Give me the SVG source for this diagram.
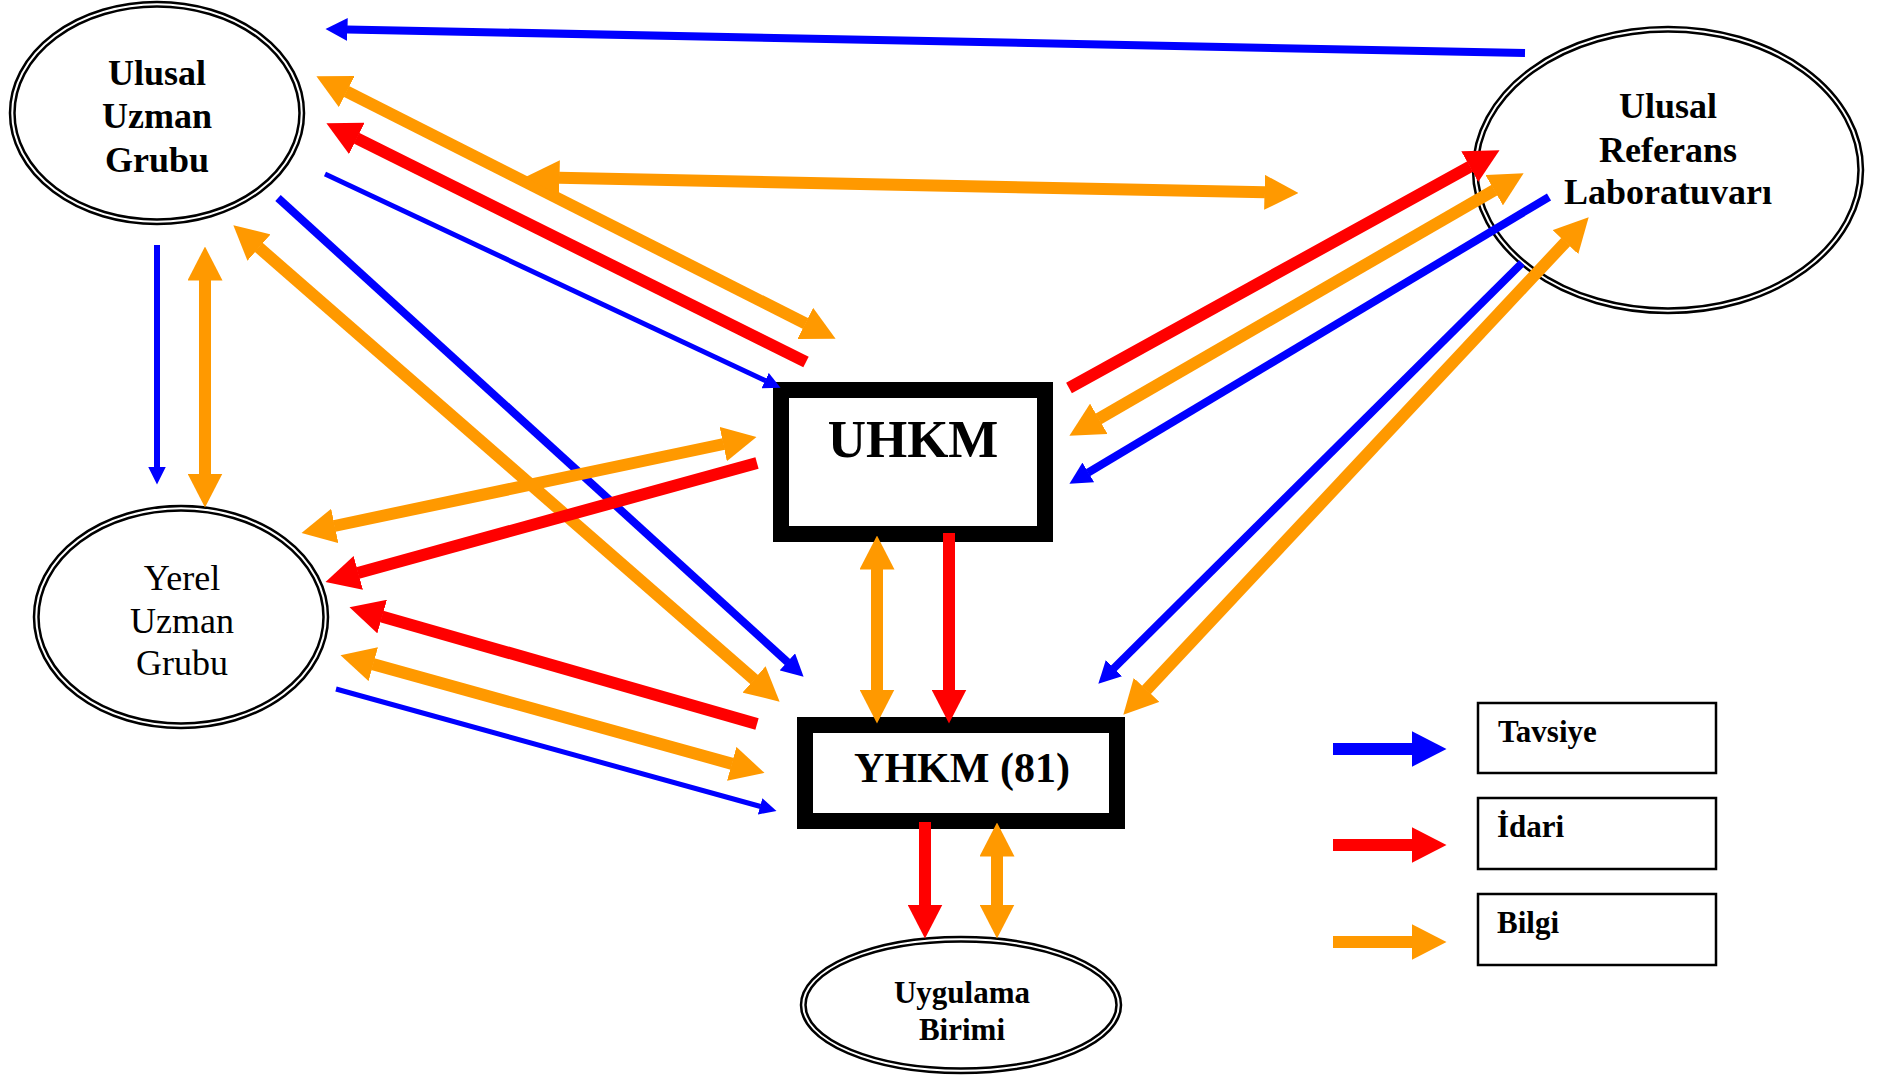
<svg xmlns="http://www.w3.org/2000/svg" width="1884" height="1078" viewBox="0 0 1884 1078">
<style>
.bg{fill:#FFFFFF}
.ell{fill:#FFFFFF;stroke:#000000;stroke-width:2.5}
.ell2{fill:none;stroke:#000000;stroke-width:2.5}
.box{fill:#FFFFFF;stroke:#000000;stroke-width:16}
.lbox{fill:#FFFFFF;stroke:#000000;stroke-width:2.5}
.t{font-family:"Liberation Serif","Times New Roman",serif;fill:#000000;text-anchor:middle}
.bd{font-weight:bold}
.lt{font-family:"Liberation Serif","Times New Roman",serif;fill:#000000;font-weight:bold;font-size:31px}
.org{stroke:#FF9900;stroke-width:12;fill:none}
.red{stroke:#FF0000;stroke-width:12;fill:none}
.bm{stroke:#0000FF;stroke-width:8;fill:none}
.bt{stroke:#0000FF;stroke-width:5;fill:none}
.bv{stroke:#0000FF;stroke-width:6;fill:none}
</style>
<defs>
<marker id="hO" markerUnits="userSpaceOnUse" markerWidth="34" markerHeight="35" viewBox="0 0 34 35" refX="0.5" refY="17.5" orient="auto-start-reverse"><path d="M0,0L34,17.5L0,35z" fill="#FF9900"/></marker>
<marker id="hR" markerUnits="userSpaceOnUse" markerWidth="34" markerHeight="35" viewBox="0 0 34 35" refX="0.5" refY="17.5" orient="auto-start-reverse"><path d="M0,0L34,17.5L0,35z" fill="#FF0000"/></marker>
<marker id="hB" markerUnits="userSpaceOnUse" markerWidth="22" markerHeight="23" viewBox="0 0 22 23" refX="0.5" refY="11.5" orient="auto-start-reverse"><path d="M0,0L22,11.5L0,23z" fill="#0000FF"/></marker>
<marker id="hBt" markerUnits="userSpaceOnUse" markerWidth="17" markerHeight="17" viewBox="0 0 17 17" refX="0.5" refY="8.5" orient="auto-start-reverse"><path d="M0,0L17,8.5L0,17z" fill="#0000FF"/></marker>
<marker id="hBv" markerUnits="userSpaceOnUse" markerWidth="18" markerHeight="18" viewBox="0 0 18 18" refX="0.5" refY="9" orient="auto-start-reverse"><path d="M0,0L18,9L0,18z" fill="#0000FF"/></marker>
<marker id="lB" markerUnits="userSpaceOnUse" markerWidth="35" markerHeight="36" viewBox="0 0 35 36" refX="0.5" refY="18" orient="auto"><path d="M0,0L35,18L0,36z" fill="#0000FF"/></marker>
<marker id="lR" markerUnits="userSpaceOnUse" markerWidth="35" markerHeight="36" viewBox="0 0 35 36" refX="0.5" refY="18" orient="auto"><path d="M0,0L35,18L0,36z" fill="#FF0000"/></marker>
<marker id="lO" markerUnits="userSpaceOnUse" markerWidth="35" markerHeight="36" viewBox="0 0 35 36" refX="0.5" refY="18" orient="auto"><path d="M0,0L35,18L0,36z" fill="#FF9900"/></marker>
</defs>
<rect class="bg" x="0" y="0" width="1884" height="1078"/>

<g id="ulusal-uzman-grubu">
<ellipse class="ell" cx="157" cy="113" rx="147" ry="111"/>
<ellipse class="ell2" cx="157" cy="113" rx="142.5" ry="106.5"/>
<text class="t bd" font-size="36" x="157" y="85">Ulusal</text>
<text class="t bd" font-size="36" x="157" y="128">Uzman</text>
<text class="t bd" font-size="36" x="157" y="172">Grubu</text>
</g>

<g id="ulusal-referans-laboratuvari">
<ellipse class="ell" cx="1668" cy="170" rx="195" ry="143"/>
<ellipse class="ell2" cx="1668" cy="170" rx="190.5" ry="138.5"/>
<text class="t bd" font-size="36" x="1668" y="118">Ulusal</text>
<text class="t bd" font-size="36" x="1668" y="162">Referans</text>
<text class="t bd" font-size="36" x="1668" y="204">Laboratuvarı</text>
</g>

<g id="yerel-uzman-grubu">
<ellipse class="ell" cx="181" cy="617" rx="147" ry="111"/>
<ellipse class="ell2" cx="181" cy="617" rx="142.5" ry="106.5"/>
<text class="t" font-size="36" x="182" y="590">Yerel</text>
<text class="t" font-size="36" x="182" y="633">Uzman</text>
<text class="t" font-size="36" x="182" y="675">Grubu</text>
</g>

<g id="uhkm">
<rect class="box" x="781" y="390" width="264" height="144"/>
<text class="t bd" font-size="53" x="913" y="457">UHKM</text>
</g>

<g id="yhkm">
<rect class="box" x="805" y="725" width="312" height="96"/>
<text class="t bd" font-size="42" x="962" y="782">YHKM (81)</text>
</g>

<g id="uygulama-birimi">
<ellipse class="ell" cx="961" cy="1005" rx="160" ry="68"/>
<ellipse class="ell2" cx="961" cy="1005" rx="155.5" ry="63.5"/>
<text class="t bd" font-size="31" x="962" y="1003">Uygulama</text>
<text class="t bd" font-size="31" x="962" y="1040">Birimi</text>
</g>

<g id="connectors">
<line class="bm" x1="1525" y1="53" x2="347" y2="29.4" marker-end="url(#hB)"/>
<line class="org" x1="346.3" y1="91.3" x2="805.7" y2="323.7" marker-start="url(#hO)" marker-end="url(#hO)"/>
<line class="red" x1="806" y1="362" x2="356.4" y2="138.2" marker-end="url(#hR)"/>
<line class="bt" x1="325" y1="174" x2="765.6" y2="380.8" marker-end="url(#hBt)"/>
<line class="org" x1="559" y1="177.7" x2="1265" y2="192.3" marker-start="url(#hO)" marker-end="url(#hO)"/>
<line class="bm" x1="278" y1="198" x2="787.7" y2="662.2" marker-end="url(#hB)"/>
<line class="org" x1="258.6" y1="247.3" x2="754.4" y2="679.7" marker-start="url(#hO)" marker-end="url(#hO)"/>
<line class="bv" x1="157" y1="245" x2="157" y2="467" marker-end="url(#hBv)"/>
<line class="org" x1="205" y1="280" x2="205" y2="474" marker-start="url(#hO)" marker-end="url(#hO)"/>
<line class="org" x1="723.7" y1="444" x2="334.3" y2="526" marker-start="url(#hO)" marker-end="url(#hO)"/>
<line class="red" x1="757" y1="463" x2="357.8" y2="573" marker-end="url(#hR)"/>
<line class="red" x1="757" y1="724" x2="381.7" y2="616.4" marker-end="url(#hR)"/>
<line class="org" x1="372.8" y1="664.1" x2="732.2" y2="763.9" marker-start="url(#hO)" marker-end="url(#hO)"/>
<line class="bt" x1="336" y1="689" x2="760.6" y2="806.5" marker-end="url(#hBt)"/>
<line class="org" x1="877" y1="569" x2="877" y2="690" marker-start="url(#hO)" marker-end="url(#hO)"/>
<line class="red" x1="949" y1="533" x2="949" y2="690" marker-end="url(#hR)"/>
<line class="red" x1="925" y1="822" x2="925" y2="905" marker-end="url(#hR)"/>
<line class="org" x1="997" y1="856" x2="997" y2="905" marker-start="url(#hO)" marker-end="url(#hO)"/>
<line class="red" x1="1069" y1="388" x2="1470.2" y2="166.4" marker-end="url(#hR)"/>
<line class="org" x1="1494.6" y1="190" x2="1098.4" y2="419" marker-start="url(#hO)" marker-end="url(#hO)"/>
<line class="bm" x1="1549" y1="197" x2="1087.9" y2="472.7" marker-end="url(#hB)"/>
<line class="bm" x1="1522" y1="263" x2="1113.6" y2="668.5" marker-end="url(#hB)"/>
<line class="org" x1="1565.8" y1="241.8" x2="1146.2" y2="690.2" marker-start="url(#hO)" marker-end="url(#hO)"/>
</g>

<g id="legend">
<g id="legend-tavsiye">
<line x1="1333" y1="749" x2="1412" y2="749" stroke="#0000FF" stroke-width="12" marker-end="url(#lB)"/>
<rect class="lbox" x="1478" y="703" width="238" height="70"/>
<text class="lt" x="1498" y="742">Tavsiye</text>
</g>
<g id="legend-idari">
<line x1="1333" y1="845" x2="1412" y2="845" stroke="#FF0000" stroke-width="12" marker-end="url(#lR)"/>
<rect class="lbox" x="1478" y="798" width="238" height="71"/>
<text class="lt" x="1497" y="837">İdari</text>
</g>
<g id="legend-bilgi">
<line x1="1333" y1="942" x2="1412" y2="942" stroke="#FF9900" stroke-width="12" marker-end="url(#lO)"/>
<rect class="lbox" x="1478" y="894" width="238" height="71"/>
<text class="lt" x="1497" y="933">Bilgi</text>
</g>
</g>
</svg>
